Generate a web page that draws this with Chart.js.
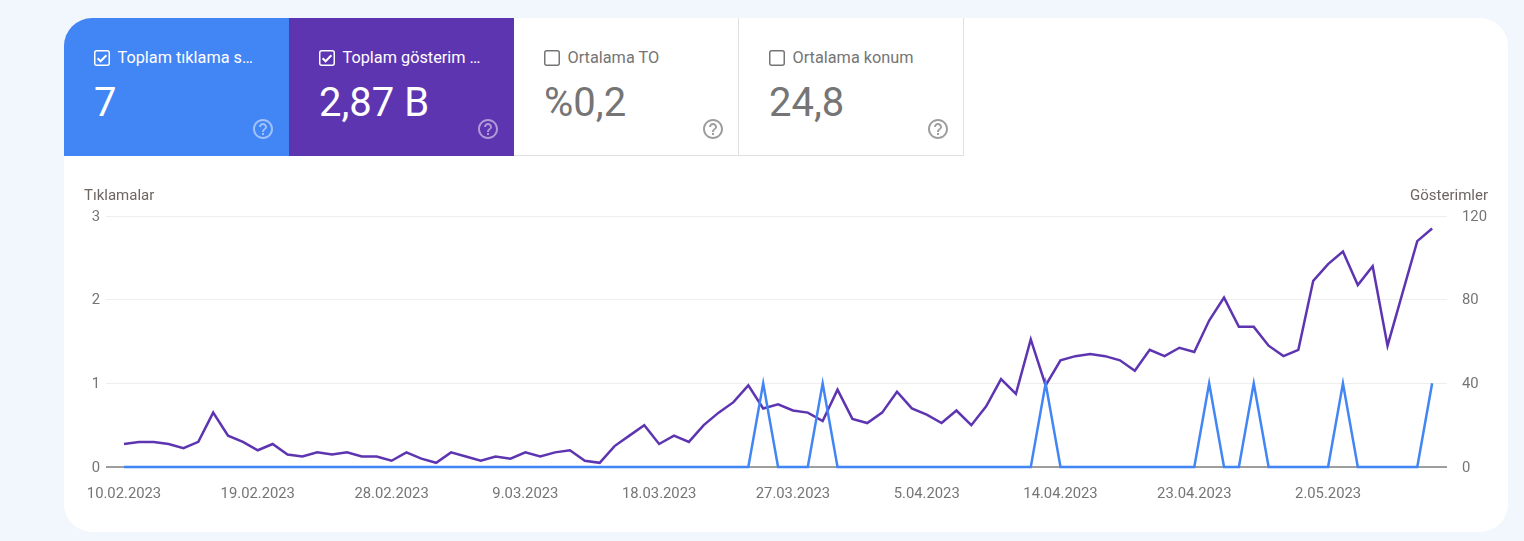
<!DOCTYPE html>
<html lang="tr"><head><meta charset="utf-8">
<script src="https://cdn.jsdelivr.net/npm/chart.js@4"></script>
<style>
html,body{margin:0;padding:0;width:1524px;height:541px;overflow:hidden;background:#f2f6fd;font-family:Roboto,sans-serif}
#card{position:absolute;left:64px;top:18px;width:1444px;height:514px;background:#fff;border-radius:28px;overflow:hidden}
.tile{position:absolute;top:0;width:225px;height:138px;box-sizing:border-box}
.tile.off{background:#fff;color:#757575;border-right:1px solid #e0e0e0;border-bottom:1px solid #e0e0e0}
.tile.on{color:#fff}
.tile .lbl{position:absolute;left:53.5px;top:30px;font-size:16.3px;line-height:20px;white-space:nowrap}
.tile .val{position:absolute;left:30px;top:61px;font-size:40px;line-height:48px;white-space:nowrap}
.tile svg.cb{position:absolute;left:30px;top:32px;width:16px;height:16px}
.tile svg.q{position:absolute;left:187px;top:99px;width:24px;height:24px}
#c{position:absolute;left:0;top:0;width:1524px;height:541px}
.axt{position:absolute;top:187px;font-size:15px;line-height:16px;color:#6d6560;white-space:nowrap}
</style></head><body>
<div id="card">
 <div class="tile on" style="left:0;background:#4285f4">
  <svg class="cb" viewBox="0 0 16 16"><rect x=".75" y=".75" width="14.5" height="14.5" rx="2" fill="none" stroke="#fff" stroke-width="1.5"/><path d="M3.6 8.2l3 3 5.8-6" fill="none" stroke="#fff" stroke-width="2"/></svg>
  <div class="lbl">Toplam tıklama s…</div><div class="val">7</div>
  <svg class="q" viewBox="0 0 24 24"><path fill="#fff" fill-opacity=".5" d="M11 18h2v-2h-2v2zm1-16C6.48 2 2 6.48 2 12s4.48 10 10 10 10-4.48 10-10S17.52 2 12 2zm0 18c-4.41 0-8-3.59-8-8s3.59-8 8-8 8 3.59 8 8-3.59 8-8 8zm0-14c-2.21 0-4 1.79-4 4h2c0-1.1.9-2 2-2s2 .9 2 2c0 2-3 1.75-3 5h2c0-2.25 3-2.5 3-5 0-2.21-1.79-4-4-4z"/></svg>
 </div>
 <div class="tile on" style="left:225px;background:#5e35b1">
  <svg class="cb" viewBox="0 0 16 16"><rect x=".75" y=".75" width="14.5" height="14.5" rx="2" fill="none" stroke="#fff" stroke-width="1.5"/><path d="M3.6 8.2l3 3 5.8-6" fill="none" stroke="#fff" stroke-width="2"/></svg>
  <div class="lbl">Toplam gösterim …</div><div class="val">2,87 B</div>
  <svg class="q" viewBox="0 0 24 24"><path fill="#fff" fill-opacity=".5" d="M11 18h2v-2h-2v2zm1-16C6.48 2 2 6.48 2 12s4.48 10 10 10 10-4.48 10-10S17.52 2 12 2zm0 18c-4.41 0-8-3.59-8-8s3.59-8 8-8 8 3.59 8 8-3.59 8-8 8zm0-14c-2.21 0-4 1.79-4 4h2c0-1.1.9-2 2-2s2 .9 2 2c0 2-3 1.75-3 5h2c0-2.25 3-2.5 3-5 0-2.21-1.79-4-4-4z"/></svg>
 </div>
 <div class="tile off" style="left:450px">
  <svg class="cb" viewBox="0 0 16 16"><rect x=".75" y=".75" width="14.5" height="14.5" rx="2" fill="none" stroke="#757575" stroke-width="1.5"/></svg>
  <div class="lbl">Ortalama TO</div><div class="val">%0,2</div>
  <svg class="q" viewBox="0 0 24 24"><path fill="#9e9e9e" d="M11 18h2v-2h-2v2zm1-16C6.48 2 2 6.48 2 12s4.48 10 10 10 10-4.48 10-10S17.52 2 12 2zm0 18c-4.41 0-8-3.59-8-8s3.59-8 8-8 8 3.59 8 8-3.59 8-8 8zm0-14c-2.21 0-4 1.79-4 4h2c0-1.1.9-2 2-2s2 .9 2 2c0 2-3 1.75-3 5h2c0-2.25 3-2.5 3-5 0-2.21-1.79-4-4-4z"/></svg>
 </div>
 <div class="tile off" style="left:675px">
  <svg class="cb" viewBox="0 0 16 16"><rect x=".75" y=".75" width="14.5" height="14.5" rx="2" fill="none" stroke="#757575" stroke-width="1.5"/></svg>
  <div class="lbl">Ortalama konum</div><div class="val">24,8</div>
  <svg class="q" viewBox="0 0 24 24"><path fill="#9e9e9e" d="M11 18h2v-2h-2v2zm1-16C6.48 2 2 6.48 2 12s4.48 10 10 10 10-4.48 10-10S17.52 2 12 2zm0 18c-4.41 0-8-3.59-8-8s3.59-8 8-8 8 3.59 8 8-3.59 8-8 8zm0-14c-2.21 0-4 1.79-4 4h2c0-1.1.9-2 2-2s2 .9 2 2c0 2-3 1.75-3 5h2c0-2.25 3-2.5 3-5 0-2.21-1.79-4-4-4z"/></svg>
 </div>
</div>
<canvas id="c" width="1524" height="541"></canvas>
<div class="axt" style="left:84px">Tıklamalar</div>
<div class="axt" style="right:36px">Gösterimler</div>
<script>
const tickLabels=["10.02.2023","19.02.2023","28.02.2023","9.03.2023","18.03.2023","27.03.2023","5.04.2023","14.04.2023","23.04.2023","2.05.2023"];
const tickIndex=[0,9,18,27,36,45,54,63,72,81];
const impressions=[11,12,12,11,9,12,26,15,12,8,11,6,5,7,6,7,5,5,3,7,4,2,7,5,3,5,4,7,5,7,8,3,2,10,15,20,11,15,12,20,26,31,39,28,30,27,26,22,37,23,21,26,36,28,25,21,27,20,29,42,35,61,39,51,53,54,53,51,46,56,53,57,55,70,81,67,67,58,53,56,89,97,103,87,96,58,83,108,114];
const clicks=[0,0,0,0,0,0,0,0,0,0,0,0,0,0,0,0,0,0,0,0,0,0,0,0,0,0,0,0,0,0,0,0,0,0,0,0,0,0,0,0,0,0,0,1,0,0,0,1,0,0,0,0,0,0,0,0,0,0,0,0,0,0,1,0,0,0,0,0,0,0,0,0,0,1,0,0,1,0,0,0,0,0,1,0,0,0,0,0,1];
const clickTicks=[0,1,2,3];
const impressionTicks=[0,40,80,120];
const toPts=a=>a.map((y,x)=>({x,y}));
const tickColor='#757575';
const font={family:'Roboto',size:14.8};
new Chart(document.getElementById('c'),{
 type:'line',
 data:{datasets:[
  {label:'Tıklamalar',data:toPts(clicks),yAxisID:'y',borderColor:'#4285f4',borderWidth:2.5,pointRadius:0,tension:0,clip:false,order:1},
  {label:'Gösterimler',data:toPts(impressions),yAxisID:'y1',borderColor:'#5e35b1',borderWidth:2.5,pointRadius:0,tension:0,clip:false,order:2}
 ]},
 options:{
  responsive:false,animation:false,
  layout:{padding:{top:216,left:0,right:0,bottom:0}},
  plugins:{legend:{display:false},tooltip:{enabled:false}},
  scales:{
   x:{type:'linear',min:-1.21,max:89,
    grid:{display:false},border:{display:false},
    afterBuildTicks:s=>{s.ticks=tickIndex.map(value=>({value}));},
    afterFit:s=>{s.height=74;},
    ticks:{autoSkip:false,maxRotation:0,color:tickColor,font,padding:10,callback:v=>tickLabels[tickIndex.indexOf(v)]}},
   y:{position:'left',min:0,max:3,
    border:{display:false},
    grid:{drawTicks:false,lineWidth:c=>c.tick.value===0?2:1,color:c=>c.tick.value===0?'#9e9e9e':'#eeeeee'},
    afterBuildTicks:s=>{s.ticks=clickTicks.map(value=>({value}));},
    afterFit:s=>{s.width=106;},
    ticks:{color:tickColor,font,padding:6,labelOffset:1}},
   y1:{position:'right',min:0,max:120,
    border:{display:false},
    grid:{display:false},
    afterBuildTicks:s=>{s.ticks=impressionTicks.map(value=>({value}));},
    afterFit:s=>{s.width=77;},
    ticks:{color:tickColor,font,padding:7,labelOffset:1}}
  }
 }
});
</script>
</body></html>
